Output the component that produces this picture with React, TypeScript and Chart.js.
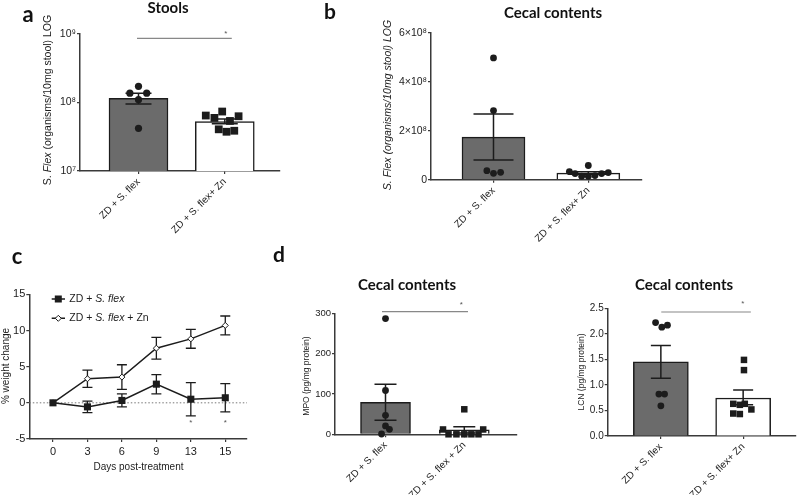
import React, { useEffect, useRef } from 'react';
import { Chart, registerables } from 'chart.js';

Chart.register(...registerables);

const W = 800;
const H = 495;

// ---------- Panel a: Stools (log scale) ----------
const A_GROUPS = ['ZD + S. flex', 'ZD + S. flex+ Zn'];
const A_MEANS = [1.15e8, 5.25e7];
const A_ERR_HIGH = [1.37e8, 5.75e7];
const A_ERR_LOW = [9.5e7, 4.9e7];
const A_PTS_1 = [1.72e8, 1.37e8, 1.37e8, 1.1e8, 4.2e7];
const A_JIT_1 = [0, -0.1, 0.095, 0, 0];
const A_PTS_2 = [6.45e7, 5.96e7, 7.38e7, 5.38e7, 6.3e7, 4.06e7, 3.74e7, 3.87e7];
const A_JIT_2 = [-0.22, -0.12, -0.03, 0.06, 0.16, -0.07, 0.02, 0.11];
const A_TICKS = [1e7, 1e8, 1e9];
const A_TICK_LABELS = ['10⁷', '10⁸', '10⁹'];

// ---------- Panel b: Cecal contents ----------
const B_GROUPS = ['ZD + S. flex', 'ZD + S. flex+ Zn'];
const B_MEANS = [1.74e8, 2.69e7];
const B_ERR_HIGH = [2.68e8, 3.2e7];
const B_ERR_LOW = [0.8e8, 2.2e7];
const B_PTS_1 = [4.97e8, 2.82e8, 3.7e7, 2.6e7, 3.0e7];
const B_JIT_1 = [0, 0, -0.07, 0, 0.075];
const B_PTS_2 = [3.3e7, 2.5e7, 1.4e7, 1.4e7, 5.8e7, 1.7e7, 2.5e7, 2.9e7];
const B_JIT_2 = [-0.2, -0.14, -0.07, 0, 0, 0.07, 0.14, 0.21];
const B_TICKS = [0, 2e8, 4e8, 6e8];
const B_TICK_LABELS = ['0', '2×10⁸', '4×10⁸', '6×10⁸'];

// ---------- Panel c: weight change ----------
const C_DAYS = ['0', '3', '6', '9', '13', '15'];
const C_FLEX = [0, -0.56, 0.33, 2.58, 0.5, 0.7];
const C_FLEX_SEM = [0, 0.8, 0.9, 1.33, 2.3, 1.95];
const C_ZN = [0, 3.33, 3.56, 7.55, 8.84, 10.7];
const C_ZN_SEM = [0, 1.2, 1.7, 1.5, 1.3, 1.3];
const C_SIG_IDX = [4, 5];
const C_TICKS = [-5, 0, 5, 10, 15];

// ---------- Panel d (left): MPO ----------
const D1_GROUPS = ['ZD + S. flex', 'ZD + S. flex + Zn'];
const D1_MEANS = [79, 11];
const D1_ERR_HIGH = [124, 18.5];
const D1_ERR_LOW = [35, 3.5];
const D1_PTS_1 = [287, 108.6, 47, 20.7, 12.4, 0.8];
const D1_JIT_1 = [0, 0, 0, 0, 0.05, -0.05];
const D1_PTS_2 = [62, 12, 12, 0, 0, 0, 0, 0];
const D1_JIT_2 = [0, -0.27, 0.24, -0.2, -0.1, 0, 0.09, 0.18];
const D1_TICKS = [0, 100, 200, 300];
const D1_TICK_LABELS = ['0', '100', '200', '300'];

// ---------- Panel d (right): LCN ----------
const D2_GROUPS = ['ZD + S. flex', 'ZD + S. flex+ Zn'];
const D2_MEANS = [1.45, 0.744];
const D2_ERR_HIGH = [1.77, 0.9];
const D2_ERR_LOW = [1.13, 0.61];
const D2_PTS_1 = [2.22, 2.13, 2.17, 0.82, 0.82, 0.59];
const D2_JIT_1 = [-0.064, 0.012, 0.08, -0.024, 0.045, 0];
const D2_PTS_2 = [1.49, 1.29, 0.63, 0.61, 0.63, 0.52, 0.44, 0.43];
const D2_JIT_2 = [0.01, 0.01, -0.12, -0.04, 0.02, 0.1, -0.12, -0.04];
const D2_TICKS = [0, 0.5, 1.0, 1.5, 2.0, 2.5];
const D2_TICK_LABELS = ['0.0', '0.5', '1.0', '1.5', '2.0', '2.5'];

// ---------- styles ----------
const FONT = '"Liberation Sans", Arial, Helvetica, sans-serif';
const TITLE_FONT = 'Lato, "Open Sans", sans-serif';
const INK = '#1c1c1c';
const AXIS = '#3a3a3a';
const SIG = '#888888';
const BAR_DARK = '#6b6b6b';

type Part = [string, boolean];

function rich(ctx: CanvasRenderingContext2D, parts: Part[], x: number, y: number, size: number, align: 'left' | 'center', rot = 0, color = INK) {
  ctx.save();
  ctx.translate(x, y);
  ctx.rotate(rot);
  ctx.fillStyle = color;
  ctx.textBaseline = 'middle';
  ctx.textAlign = 'left';
  const fonts = parts.map(([, it]) => `${it ? 'italic ' : ''}${size}px ${FONT}`);
  let total = 0;
  const widths = parts.map(([t], i) => {
    ctx.font = fonts[i];
    const w = ctx.measureText(t).width;
    total += w;
    return w;
  });
  let cx = align === 'center' ? -total / 2 : 0;
  parts.forEach(([t], i) => {
    ctx.font = fonts[i];
    ctx.fillText(t, cx, 0);
    cx += widths[i];
  });
  ctx.restore();
}

function boldText(ctx: CanvasRenderingContext2D, s: string, x: number, y: number, size: number) {
  ctx.save();
  ctx.font = `bold ${size}px ${TITLE_FONT}`;
  ctx.fillStyle = '#111';
  ctx.textAlign = 'center';
  ctx.textBaseline = 'middle';
  ctx.fillText(s, x, y);
  ctx.restore();
}

function star(ctx: CanvasRenderingContext2D, x: number, y: number) {
  ctx.save();
  ctx.font = `8px ${FONT}`;
  ctx.fillStyle = '#555';
  ctx.textAlign = 'center';
  ctx.textBaseline = 'middle';
  ctx.fillText('*', x, y);
  ctx.restore();
}

function sigLine(ctx: CanvasRenderingContext2D, x0: number, x1: number, y: number) {
  ctx.save();
  ctx.strokeStyle = SIG;
  ctx.lineWidth = 1.2;
  ctx.beginPath();
  ctx.moveTo(x0, y);
  ctx.lineTo(x1, y);
  ctx.stroke();
  ctx.restore();
}

type Area = { l: number; t: number; r: number; b: number };

type BarSpec = {
  area: Area;
  xMin: number;
  xMax: number;
  groups: string[];
  means: number[];
  errHigh: number[];
  errLow: number[];
  pts1: number[];
  jit1: number[];
  pts2: number[];
  jit2: number[];
  style2: string;
  yType: 'linear' | 'logarithmic';
  yTicks: number[];
  yLabels: string[];
  barW: number;
  capW: number;
  dotR: number;
  r2: number;
  yFont: number;
  xFont: number;
  draw: (ctx: CanvasRenderingContext2D, chart: any) => void;
};

function axisBase(size: number) {
  return {
    border: { display: true, color: AXIS, width: 1.5 },
    grid: { display: true, drawOnChartArea: false, drawTicks: true, tickLength: 3, color: AXIS, lineWidth: 1.2, offset: false },
    ticks: { color: INK, font: { family: FONT, size }, padding: 1 },
  };
}

function barConfig(p: BarSpec): any {
  const yw = Math.min(40, p.area.l);
  const xh = Math.min(80, H - p.area.b);
  const errPlugin = {
    id: 'errbars',
    afterDatasetDraw(chart: any, args: any) {
      if (args.index !== 2) return;
      const ctx = chart.ctx;
      const xs = chart.scales.x;
      const ys = chart.scales.y;
      ctx.save();
      ctx.strokeStyle = INK;
      ctx.lineWidth = 1.5;
      p.means.forEach((_, i) => {
        const x = xs.getPixelForValue(i);
        const yt = ys.getPixelForValue(p.errHigh[i]);
        const yb = ys.getPixelForValue(p.errLow[i]);
        ctx.beginPath();
        ctx.moveTo(x, yt);
        ctx.lineTo(x, yb);
        ctx.moveTo(x - p.capW, yt);
        ctx.lineTo(x + p.capW, yt);
        ctx.moveTo(x - p.capW, yb);
        ctx.lineTo(x + p.capW, yb);
        ctx.stroke();
      });
      ctx.restore();
    },
  };
  const overlay = {
    id: 'overlay',
    afterDraw(chart: any) {
      p.draw(chart.ctx, chart);
    },
  };
  const xb = axisBase(p.xFont);
  const yb = axisBase(p.yFont);
  return {
    type: 'bar',
    data: {
      datasets: [
        {
          type: 'scatter',
          data: p.pts1.map((y, i) => ({ x: 0 + p.jit1[i], y })),
          pointStyle: 'circle',
          pointRadius: p.dotR,
          pointBackgroundColor: INK,
          pointBorderColor: INK,
          pointBorderWidth: 0,
          clip: false,
        },
        {
          type: 'scatter',
          data: p.pts2.map((y, i) => ({ x: 1 + p.jit2[i], y })),
          pointStyle: p.style2,
          pointRadius: p.r2,
          pointBackgroundColor: INK,
          pointBorderColor: INK,
          pointBorderWidth: 0,
          clip: false,
        },
        {
          type: 'bar',
          data: p.means.map((y, i) => ({ x: i, y })),
          backgroundColor: [BAR_DARK, '#ffffff'],
          borderColor: INK,
          borderWidth: 1.5,
          barThickness: p.barW,
        },
      ],
    },
    options: {
      responsive: false,
      animation: false,
      events: [],
      layout: { padding: { left: p.area.l - yw, right: W - p.area.r, top: p.area.t, bottom: H - p.area.b - xh } },
      plugins: { legend: { display: false }, tooltip: { enabled: false } },
      scales: {
        x: {
          type: 'linear',
          min: p.xMin,
          max: p.xMax,
          offset: false,
          border: xb.border,
          grid: xb.grid,
          afterFit: (s: any) => {
            s.height = xh;
          },
          afterBuildTicks: (s: any) => {
            s.ticks = p.groups.map((_, i) => ({ value: i }));
          },
          ticks: {
            ...xb.ticks,
            padding: 2,
            autoSkip: false,
            minRotation: 45,
            maxRotation: 45,
            callback: (v: any) => p.groups[Math.round(Number(v))],
          },
        },
        y: {
          type: p.yType,
          min: p.yTicks[0],
          max: p.yTicks[p.yTicks.length - 1],
          border: yb.border,
          grid: yb.grid,
          afterFit: (s: any) => {
            s.width = yw;
          },
          afterBuildTicks: (s: any) => {
            s.ticks = p.yTicks.map((v) => ({ value: v }));
          },
          ticks: { ...yb.ticks, autoSkip: false, callback: (_v: any, i: number) => p.yLabels[i] },
        },
      },
    },
    plugins: [errPlugin, overlay],
  };
}

const panelA = (): any =>
  barConfig({
    area: { l: 80, t: 34, r: 280, b: 171 },
    xMin: -0.678,
    xMax: 1.64,
    groups: A_GROUPS,
    means: A_MEANS,
    errHigh: A_ERR_HIGH,
    errLow: A_ERR_LOW,
    pts1: A_PTS_1,
    jit1: A_JIT_1,
    pts2: A_PTS_2,
    jit2: A_JIT_2,
    style2: 'rect',
    yType: 'logarithmic',
    yTicks: A_TICKS,
    yLabels: A_TICK_LABELS,
    barW: 59,
    capW: 13,
    dotR: 3.6,
    r2: 5.5,
    yFont: 10.5,
    xFont: 10,
    draw: (ctx, chart) => {
      const xs = chart.scales.x;
      const ys = chart.scales.y;
      boldText(ctx, 'a', 28, 15, 22);
      boldText(ctx, 'Stools', 168, 8, 15);
      rich(ctx, [['S. ', false], ['Flex', true], [' (organisms/10mg stool) LOG', false]], 48, 100, 10.5, 'center', -Math.PI / 2);
      const y = ys.top + 4.3;
      sigLine(ctx, xs.getPixelForValue(0) - 1.5, xs.getPixelForValue(1) + 7, y);
      star(ctx, xs.getPixelForValue(1) + 1, y - 5);
    },
  });

const panelB = (): any =>
  barConfig({
    area: { l: 431, t: 32.7, r: 642, b: 179.7 },
    xMin: -0.659,
    xMax: 1.566,
    groups: B_GROUPS,
    means: B_MEANS,
    errHigh: B_ERR_HIGH,
    errLow: B_ERR_LOW,
    pts1: B_PTS_1,
    jit1: B_JIT_1,
    pts2: B_PTS_2,
    jit2: B_JIT_2,
    style2: 'circle',
    yType: 'linear',
    yTicks: B_TICKS,
    yLabels: B_TICK_LABELS,
    barW: 63,
    capW: 20,
    dotR: 3.4,
    r2: 3.4,
    yFont: 10.5,
    xFont: 10,
    draw: (ctx) => {
      boldText(ctx, 'b', 330, 12, 21);
      boldText(ctx, 'Cecal contents', 553, 13, 15);
      rich(ctx, [['S. Flex (organisms/10mg stool) LOG', true]], 388, 105, 10.5, 'center', -Math.PI / 2);
    },
  });

const panelD1 = (): any =>
  barConfig({
    area: { l: 335, t: 313.3, r: 517, b: 434.3 },
    xMin: -0.641,
    xMax: 1.669,
    groups: D1_GROUPS,
    means: D1_MEANS,
    errHigh: D1_ERR_HIGH,
    errLow: D1_ERR_LOW,
    pts1: D1_PTS_1,
    jit1: D1_JIT_1,
    pts2: D1_PTS_2,
    jit2: D1_JIT_2,
    style2: 'rect',
    yType: 'linear',
    yTicks: D1_TICKS,
    yLabels: D1_TICK_LABELS,
    barW: 50,
    capW: 11,
    dotR: 3.4,
    r2: 4.6,
    yFont: 9.5,
    xFont: 10,
    draw: (ctx, chart) => {
      const xs = chart.scales.x;
      const ys = chart.scales.y;
      boldText(ctx, 'd', 279, 255, 21);
      boldText(ctx, 'Cecal contents', 407, 285, 15);
      rich(ctx, [['MPO (pg/mg protein)', false]], 307, 376, 8.5, 'center', -Math.PI / 2);
      const y = ys.top - 1.6;
      sigLine(ctx, xs.getPixelForValue(0) - 3.5, xs.getPixelForValue(1) + 3.7, y);
      star(ctx, xs.getPixelForValue(1) - 3, y - 7);
    },
  });

const panelD2 = (): any =>
  barConfig({
    area: { l: 607.7, t: 308.3, r: 797, b: 436 },
    xMin: -0.646,
    xMax: 1.635,
    groups: D2_GROUPS,
    means: D2_MEANS,
    errHigh: D2_ERR_HIGH,
    errLow: D2_ERR_LOW,
    pts1: D2_PTS_1,
    jit1: D2_JIT_1,
    pts2: D2_PTS_2,
    jit2: D2_JIT_2,
    style2: 'rect',
    yType: 'linear',
    yTicks: D2_TICKS,
    yLabels: D2_TICK_LABELS,
    barW: 55,
    capW: 10,
    dotR: 3.4,
    r2: 4.6,
    yFont: 10,
    xFont: 10,
    draw: (ctx, chart) => {
      const xs = chart.scales.x;
      const ys = chart.scales.y;
      boldText(ctx, 'Cecal contents', 684, 285, 15);
      rich(ctx, [['LCN (pg/mg protein)', false]], 582, 372, 8.5, 'center', -Math.PI / 2);
      const y = ys.top + 3.7;
      sigLine(ctx, xs.getPixelForValue(0) + 0.4, xs.getPixelForValue(1) + 7.7, y);
      star(ctx, xs.getPixelForValue(1) - 0.3, y - 8);
    },
  });

const panelC = (): any => {
  const area: Area = { l: 29.3, t: 294.3, r: 247, b: 439 };
  const yw = 29;
  const xh = 40;
  const b = axisBase(11);
  const drawMarker = (ctx: CanvasRenderingContext2D, kind: string, x: number, y: number) => {
    ctx.save();
    if (kind === 'rect') {
      ctx.fillStyle = INK;
      ctx.fillRect(x - 3.5, y - 3.5, 7, 7);
    } else {
      ctx.fillStyle = '#fff';
      ctx.strokeStyle = INK;
      ctx.lineWidth = 1;
      ctx.beginPath();
      ctx.moveTo(x, y - 3);
      ctx.lineTo(x + 3, y);
      ctx.lineTo(x, y + 3);
      ctx.lineTo(x - 3, y);
      ctx.closePath();
      ctx.fill();
      ctx.stroke();
    }
    ctx.restore();
  };
  const under = {
    id: 'under',
    beforeDatasetsDraw(chart: any) {
      const ctx = chart.ctx;
      const xs = chart.scales.x;
      const ys = chart.scales.y;
      ctx.save();
      ctx.strokeStyle = '#777';
      ctx.lineWidth = 1;
      ctx.setLineDash([1.5, 2]);
      const y0 = ys.getPixelForValue(0);
      ctx.beginPath();
      ctx.moveTo(xs.left, y0);
      ctx.lineTo(xs.right, y0);
      ctx.stroke();
      ctx.setLineDash([]);
      ctx.strokeStyle = INK;
      ctx.lineWidth = 1.3;
      const series: [number[], number[]][] = [
        [C_FLEX, C_FLEX_SEM],
        [C_ZN, C_ZN_SEM],
      ];
      series.forEach(([m, s]) => {
        m.forEach((v, i) => {
          if (!s[i]) return;
          const x = xs.getPixelForValue(i);
          const yt = ys.getPixelForValue(v + s[i]);
          const yb = ys.getPixelForValue(v - s[i]);
          ctx.beginPath();
          ctx.moveTo(x, yt);
          ctx.lineTo(x, yb);
          ctx.moveTo(x - 5, yt);
          ctx.lineTo(x + 5, yt);
          ctx.moveTo(x - 5, yb);
          ctx.lineTo(x + 5, yb);
          ctx.stroke();
        });
      });
      ctx.restore();
    },
  };
  const overlay = {
    id: 'overlay',
    afterDraw(chart: any) {
      const ctx = chart.ctx;
      const xs = chart.scales.x;
      const ys = chart.scales.y;
      boldText(ctx, 'c', 17, 257, 22);
      rich(ctx, [['% weight change', false]], 6, 366, 10, 'center', -Math.PI / 2);
      rich(ctx, [['Days post-treatment', false]], 138.5, 467, 10, 'center');
      // legend
      ctx.save();
      ctx.strokeStyle = INK;
      ctx.lineWidth = 1.5;
      ctx.beginPath();
      ctx.moveTo(51.7, 299);
      ctx.lineTo(65, 299);
      ctx.moveTo(51.7, 318.3);
      ctx.lineTo(65, 318.3);
      ctx.stroke();
      ctx.restore();
      drawMarker(ctx, 'rect', 58.3, 299);
      drawMarker(ctx, 'diamond', 58.3, 318.3);
      rich(ctx, [['ZD + ', false], ['S. flex', true]], 69.3, 299, 10.5, 'left');
      rich(ctx, [['ZD + ', false], ['S. flex', true], [' + Zn', false]], 69.3, 318.3, 10.5, 'left');
      C_SIG_IDX.forEach((i) => star(ctx, xs.getPixelForValue(i), ys.getPixelForValue(-2.75)));
    },
  };
  return {
    type: 'line',
    data: {
      datasets: [
        {
          label: 'ZD + S. flex',
          data: C_FLEX.map((y, i) => ({ x: i, y })),
          borderColor: INK,
          borderWidth: 1.5,
          pointStyle: 'rect',
          pointRadius: 5,
          pointBackgroundColor: INK,
          pointBorderColor: INK,
          pointBorderWidth: 0,
          clip: false,
        },
        {
          label: 'ZD + S. flex + Zn',
          data: C_ZN.map((y, i) => ({ x: i, y })),
          borderColor: INK,
          borderWidth: 1.5,
          pointStyle: 'rectRot',
          pointRadius: 3,
          pointBackgroundColor: '#fff',
          pointBorderColor: INK,
          pointBorderWidth: 1,
          clip: false,
        },
      ],
    },
    options: {
      responsive: false,
      animation: false,
      events: [],
      layout: { padding: { left: area.l - yw, right: W - area.r, top: area.t, bottom: H - area.b - xh } },
      plugins: { legend: { display: false }, tooltip: { enabled: false } },
      scales: {
        x: {
          type: 'linear',
          min: -0.687,
          max: 5.63,
          border: b.border,
          grid: b.grid,
          afterFit: (s: any) => {
            s.height = xh;
          },
          afterBuildTicks: (s: any) => {
            s.ticks = C_DAYS.map((_, i) => ({ value: i }));
          },
          ticks: { ...b.ticks, padding: 3, autoSkip: false, maxRotation: 0, callback: (v: any) => C_DAYS[Math.round(Number(v))] },
        },
        y: {
          type: 'linear',
          min: C_TICKS[0],
          max: C_TICKS[C_TICKS.length - 1],
          border: b.border,
          grid: b.grid,
          afterFit: (s: any) => {
            s.width = yw;
          },
          afterBuildTicks: (s: any) => {
            s.ticks = C_TICKS.map((v) => ({ value: v }));
          },
          ticks: { ...b.ticks, callback: (v: any) => String(v) },
        },
      },
    },
    plugins: [under, overlay],
  };
};

function ChartCanvas({ make }: { make: () => any }) {
  const ref = useRef<HTMLCanvasElement>(null);
  useEffect(() => {
    if (!ref.current) return;
    const chart = new Chart(ref.current, make());
    return () => chart.destroy();
  }, [make]);
  return <canvas ref={ref} width={W} height={H} style={{ position: 'absolute', left: 0, top: 0, width: W, height: H }} />;
}

export default function App() {
  return (
    <div style={{ position: 'fixed', left: 0, top: 0, width: W, height: H, background: '#ffffff', overflow: 'hidden' }}>
      <ChartCanvas make={panelA} />
      <ChartCanvas make={panelB} />
      <ChartCanvas make={panelC} />
      <ChartCanvas make={panelD1} />
      <ChartCanvas make={panelD2} />
    </div>
  );
}
